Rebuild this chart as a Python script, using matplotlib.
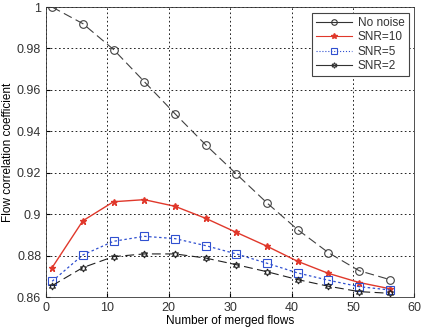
from matplotlib import pyplot as plt
from matplotlib.lines import Line2D
import numpy as np

plt.rcParams['font.family'] = ['Liberation Sans', 'DejaVu Sans']
plt.rcParams['text.color'] = '#333333'
plt.rcParams['xtick.labelcolor'] = '#333333'
plt.rcParams['ytick.labelcolor'] = '#333333'

# Data
flows = [1, 6, 11, 16, 21, 26, 31, 36, 41, 46, 51, 56]
no_noise = [1.0, 0.992, 0.9795, 0.964, 0.9485, 0.9335, 0.9194, 0.9054, 0.8925, 0.8814, 0.8727, 0.8684]
snr10 = [0.8742, 0.8968, 0.906, 0.907, 0.9038, 0.898, 0.8912, 0.8845, 0.8772, 0.8714, 0.867, 0.864]
snr5 = [0.8676, 0.8803, 0.8869, 0.8893, 0.8882, 0.8848, 0.8808, 0.8763, 0.8716, 0.8681, 0.865, 0.8634]
snr2 = [0.8655, 0.8742, 0.8795, 0.8808, 0.8808, 0.8788, 0.8756, 0.8722, 0.8684, 0.8652, 0.8626, 0.8618]

fig = plt.figure(figsize=(4.22, 3.28), dpi=100)
ax = fig.add_axes([0.109, 0.0945, 0.873, 0.884])

ax.plot(flows, no_noise, color='#404040', lw=0.8, dashes=(8, 4), marker='o',
        ms=5.5, mfc='none', mec='#404040', mew=0.8)
ax.plot(flows, snr10, color='#e0382b', lw=1.0, marker='*', ms=5,
        mfc='#e0382b', mec='#e0382b')
ax.plot(flows, snr5, color='#3050d0', lw=0.9, dashes=(2, 2), marker='s', ms=5.5,
        mfc='none', mec='#3050d0', mew=0.8)
ax.plot(flows, snr2, color='#202020', lw=0.8, dashes=(8, 4), marker=(6, 1, 0),
        ms=5, mfc='none', mec='#202020', mew=0.8)

ax.set_xlim(0, 60)
ax.set_ylim(0.86, 1.0)
ax.set_xticks(np.arange(0, 61, 10))
ax.set_yticks(np.arange(0.86, 1.001, 0.02))
ax.set_yticklabels(['0.86', '0.88', '0.9', '0.92', '0.94', '0.96', '0.98', '1'])
ax.grid(True, color='black', linestyle=(0, (2, 3)), linewidth=0.6)
ax.tick_params(direction='in', labelsize=9, length=3)
for s in ax.spines.values():
    s.set_linewidth(0.6)
    s.set_color('#333333')

ax.set_xlabel('Number of merged flows', fontsize=8.5, labelpad=1)
ax.set_ylabel('Flow correlation coefficient', fontsize=8.5, labelpad=2)

# legend handles drawn like the reference (short solid lines, small markers)
handles = [
    Line2D([], [], color='#333333', lw=0.8, marker='o', ms=4, mfc='none', mew=0.8),
    Line2D([], [], color='#e0382b', lw=0.8, marker='*', ms=4),
    Line2D([], [], color='#3050d0', lw=0.8, ls=':', marker='s', ms=4, mfc='none', mew=0.8),
    Line2D([], [], color='#333333', lw=0.8, marker=(6, 1, 0), ms=4, mfc='none', mew=0.8),
]
labels = ['No noise', 'SNR=10', 'SNR=5', 'SNR=2']
leg = ax.legend(handles, labels, loc='upper right', fontsize=8.5, fancybox=False,
                framealpha=1, edgecolor='#444444', handlelength=3,
                borderaxespad=0.5, labelspacing=0.2, borderpad=0.35,
                handletextpad=0.5)
leg.get_frame().set_linewidth(0.8)

fig.savefig('out.png', dpi=100)
